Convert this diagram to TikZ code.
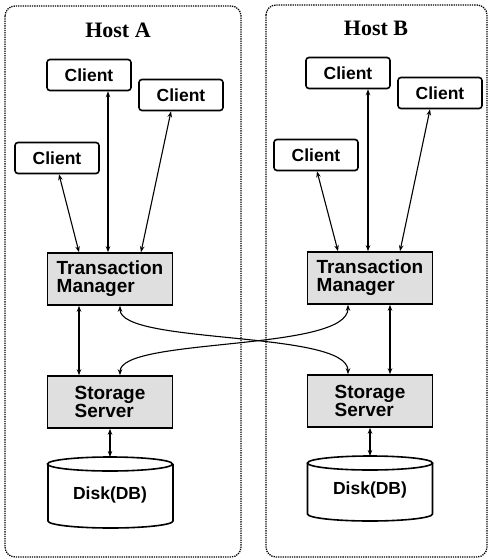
\documentclass[tikz,border=0pt]{standalone}
\usepackage{fontspec}
\setmainfont{Liberation Serif}
\newfontfamily\hv{Liberation Sans}
\usetikzlibrary{arrows.meta}
\begin{document}
\begin{tikzpicture}[x=1pt,y=-1pt,
 host/.style={draw, densely dotted, line width=1.3pt, rounded corners=10pt},
 title/.style={font=\bfseries\fontsize{22}{24}\selectfont, inner sep=0},
 client/.style={draw, line width=1.6pt, rounded corners=3pt, font=\hv\bfseries\fontsize{17.5}{18}\selectfont, inner sep=0, minimum width=84pt, minimum height=31pt},
 proc/.style={draw, line width=1.6pt, fill=gray!25, font=\hv\bfseries\fontsize{19}{18}\selectfont, align=left, inner sep=0, minimum width=125pt, minimum height=52pt},
 disktext/.style={font=\hv\bfseries\fontsize{17.5}{18}\selectfont, inner sep=0},
 link/.style={line width=1.1pt, {Stealth[length=6pt,width=4.5pt]}-{Stealth[length=6pt,width=4.5pt]}},
 cyl/.style={line width=1.6pt}
]
\useasboundingbox (0,0) rectangle (491,560);
\fill[white] (0,0) rectangle (491,560);

% hosts
\draw[host] (5,6) rectangle (241,557);
\draw[host] (266,5) rectangle (487,557);
\node[title] (hA) at (118,30) {Host A};
\node[title] (hB) at (376,28) {Host B};

% Host A
\node[client] (cA1) at (89,75) {Client};
\node[client] (cA2) at (181,95) {Client};
\node[client] (cA3) at (57,158) {Client};
\node[proc] (tA) at (110,279) {Transaction\\Manager};
\node[proc] (sA) at (110,402) {Storage\\Server};
\coordinate (dAc) at (110,464);
\draw[cyl] (48,464) -- (48,521) arc[start angle=180, end angle=360, x radius=62.5pt, y radius=7pt] -- (173,464);
\draw[cyl] (dAc) ellipse[x radius=62.5pt, y radius=7pt];
\node[disktext] (dA) at (110,495) {Disk(DB)};

% Host B
\node[client] (cB1) at (348,73) {Client};
\node[client] (cB2) at (440,93) {Client};
\node[client] (cB3) at (316,155) {Client};
\node[proc] (tB) at (370,278) {Transaction\\Manager};
\node[proc] (sB) at (370,401) {Storage\\Server};
\coordinate (dBc) at (370,463);
\draw[cyl] (307.5,463) -- (307.5,514) arc[start angle=180, end angle=360, x radius=62.5pt, y radius=7pt] -- (432.5,463);
\draw[cyl] (dBc) ellipse[x radius=62.5pt, y radius=7pt];
\node[disktext] (dB) at (370,490) {Disk(DB)};

% links Host A
\draw[link] (cA3.south -| 59,0) -- (tA.north -| 79,0);
\draw[link] (cA1.south -| 108,0) -- (tA.north -| 108,0);
\draw[link] (cA2.south -| 171,0) -- (tA.north -| 141,0);
\draw[link] (tA.south -| 79,0) -- (sA.north -| 79,0);
\draw[link] (sA.south) -- ([yshift=7pt]dAc);

% links Host B
\draw[link] (cB3.south -| 317,0) -- (tB.north -| 338,0);
\draw[link] (cB1.south -| 368,0) -- (tB.north -| 368,0);
\draw[link] (cB2.south -| 430,0) -- (tB.north -| 400,0);
\draw[link] (tB.south -| 390,0) -- (sB.north -| 390,0);
\draw[link] (sB.south) -- ([yshift=7pt]dBc);

% cross links
\draw[link] (tA.south -| 120,0) .. controls (120,345) and (348,330) .. (sB.north -| 348,0);
\draw[link] (sA.north -| 120,0) .. controls (120,337) and (348,352) .. (tB.south -| 348,0);
\end{tikzpicture}
\end{document}
